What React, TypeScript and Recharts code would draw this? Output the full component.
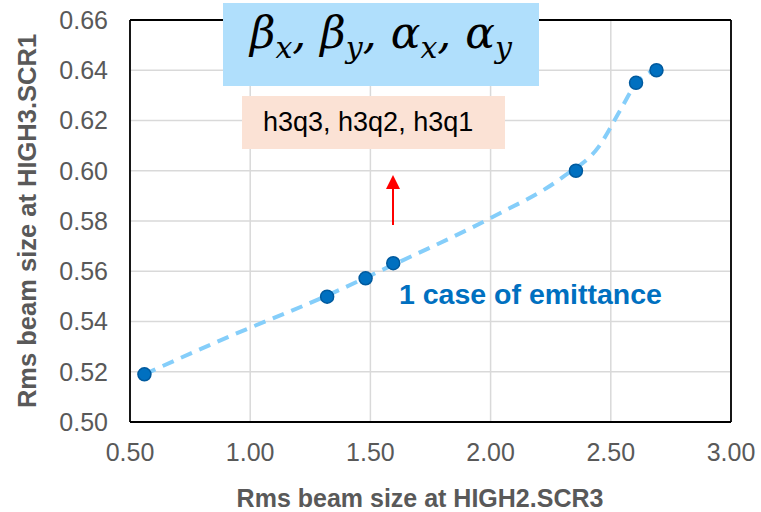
import React from "react";
import {
  ScatterChart,
  Scatter,
  XAxis,
  YAxis,
  CartesianGrid,
  ReferenceLine,
  Label,
} from "recharts";

const scr3Values = [0.56, 1.32, 1.48, 1.595, 2.355, 2.605, 2.69];
const scr1Values = [0.519, 0.5499, 0.5572, 0.5632, 0.6, 0.635, 0.64];

const trendX = [0.56, 0.9, 1.3, 1.6, 2.0, 2.3, 2.45, 2.54, 2.6, 2.69];
const trendY = [0.519, 0.5335, 0.5495, 0.5628, 0.5812, 0.5975, 0.6096, 0.6242, 0.634, 0.6405];

const xTicks = [0.5, 1.0, 1.5, 2.0, 2.5, 3.0];
const yTicks = [0.5, 0.52, 0.54, 0.56, 0.58, 0.6, 0.62, 0.64, 0.66];

const xTitle = "Rms beam size at HIGH2.SCR3";
const yTitle = "Rms beam size at HIGH3.SCR1";

const points = scr3Values.map((x, i) => ({ x, y: scr1Values[i] }));
const trend = trendX.map((x, i) => ({ x, y: trendY[i] }));

const FONT = "Arial, 'Liberation Sans', sans-serif";

const Dot = (props: any) => {
  const { cx, cy } = props;
  if (cx == null || cy == null) return null;
  return <circle cx={cx} cy={cy} r={6.5} fill="#0070C0" stroke="#005a9e" strokeWidth={1.5} />;
};

const NoShape = () => null;

export default function App() {
  return (
    <div
      style={{
        position: "fixed",
        left: 0,
        top: 0,
        width: 761,
        height: 512,
        overflow: "hidden",
        background: "#fff",
        fontFamily: FONT,
      }}
    >
      <ScatterChart
        width={761}
        height={512}
        margin={{ top: 20, right: 30, bottom: 0, left: 0 }}
        style={{ overflow: "visible" }}
      >
        <CartesianGrid stroke="#d9d9d9" strokeWidth={1.5} />
        <XAxis
          type="number"
          dataKey="x"
          domain={[0.5, 3.0]}
          ticks={xTicks}
          tickFormatter={(v: number) => v.toFixed(2)}
          height={90}
          tickSize={0}
          tickMargin={21}
          axisLine={{ stroke: "#000", strokeWidth: 1.8 }}
          tick={{ fill: "#595959", fontSize: 25, fontFamily: FONT }}
        />
        <YAxis
          type="number"
          dataKey="y"
          domain={[0.5, 0.66]}
          ticks={yTicks}
          tickFormatter={(v: number) => v.toFixed(2)}
          width={130}
          tickSize={0}
          tickMargin={22}
          axisLine={{ stroke: "#000", strokeWidth: 1.8 }}
          tick={{ fill: "#595959", fontSize: 25, fontFamily: FONT }}
        >
          <Label
            value={yTitle}
            angle={-90}
            position="insideLeft"
            offset={27}
            style={{ textAnchor: "middle", fill: "#595959", fontSize: 25.5, fontWeight: "bold", fontFamily: FONT }}
          />
        </YAxis>
        <ReferenceLine y={0.66} stroke="#000" strokeWidth={1.8} ifOverflow="visible" />
        <ReferenceLine x={3.0} stroke="#000" strokeWidth={1.8} ifOverflow="visible" />
        <Scatter
          data={trend}
          line={{ stroke: "#85CEFA", strokeWidth: 4, strokeDasharray: "12 8" }}
          lineJointType="monotoneX"
          shape={NoShape}
          isAnimationActive={false}
        />
        <Scatter data={points} shape={Dot} isAnimationActive={false} />
      </ScatterChart>

      <div
        style={{
          position: "absolute",
          left: 220,
          width: 400,
          top: 486,
          textAlign: "center",
          fontFamily: FONT,
          fontWeight: "bold",
          fontSize: 25,
          lineHeight: "25px",
          color: "#595959",
          whiteSpace: "nowrap",
        }}
      >
        {xTitle}
      </div>

      <div
        style={{
          position: "absolute",
          left: 223,
          top: 3,
          width: 316,
          height: 83,
          background: "#B0DFFC",
          display: "flex",
          alignItems: "center",
          justifyContent: "center",
          fontFamily: "'DejaVu Serif', 'Liberation Serif', serif",
          fontStyle: "italic",
          fontSize: 44,
          color: "#000",
          whiteSpace: "nowrap",
          lineHeight: "50px",
        }}
      >
        <span style={{ position: "relative", top: -4 }}>
          β<sub style={{ fontSize: 30 }}>x</sub>, β<sub style={{ fontSize: 30 }}>y</sub>, α<sub style={{ fontSize: 30 }}>x</sub>, α<sub style={{ fontSize: 30 }}>y</sub>
        </span>
      </div>

      <div
        style={{
          position: "absolute",
          left: 242,
          top: 96,
          width: 263,
          height: 53,
          background: "#FBE2D5",
          display: "flex",
          alignItems: "center",
          paddingLeft: 21,
          boxSizing: "border-box",
          fontFamily: FONT,
          fontSize: 27,
          color: "#000",
          whiteSpace: "nowrap",
        }}
      >
        h3q3, h3q2, h3q1
      </div>

      <svg
        style={{ position: "absolute", left: 380, top: 170, overflow: "visible" }}
        width={30}
        height={60}
      >
        <line x1={13} y1={55} x2={13} y2={16} stroke="#FF0000" strokeWidth={2} />
        <polygon points="6,19 20,19 13,5" fill="#FF0000" />
      </svg>

      <div
        style={{
          position: "absolute",
          left: 399,
          top: 276,
          fontFamily: FONT,
          fontWeight: "bold",
          fontSize: 28.5,
          color: "#0070C0",
          whiteSpace: "nowrap",
          lineHeight: "36px",
        }}
      >
        1 case of emittance
      </div>
    </div>
  );
}
